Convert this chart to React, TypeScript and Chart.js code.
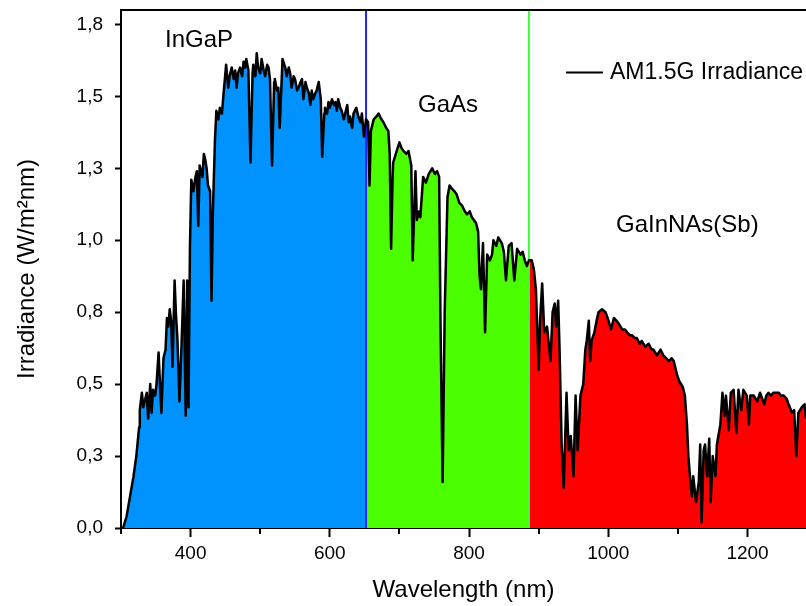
import React, { useEffect, useRef } from "react";
import { Chart, registerables } from "chart.js";

Chart.register(...registerables);

// Wavelength (nm) and AM1.5G spectral irradiance (W/m²nm)
const wavelengths = [
  300, 303, 308, 313, 318, 322, 326, 327, 330, 332, 335, 337, 339, 342, 344, 346, 349, 351, 354, 356, 358, 361,
  364, 366, 368, 370, 372, 374, 377, 379, 381, 384, 387, 390, 393, 395, 397, 399, 401, 404, 407, 409, 411, 413, 417, 419, 421, 423, 425,
  428, 430, 432, 435, 437, 440, 442, 445, 447, 451, 454, 456, 459, 462, 464, 466, 468, 471, 474, 476, 478, 480, 483, 486, 489, 490, 493, 495,
  497, 500, 502, 505, 507, 510, 512, 514, 517, 520, 521, 524, 526, 528, 532, 536, 538, 541, 543, 545, 548, 550, 553, 555, 558, 560, 562, 565, 567,
  570, 572, 574, 576, 579, 581, 584, 587, 589, 592, 593, 596, 598, 600, 603, 606, 608, 610, 612, 615, 617, 620, 622, 625, 627, 629, 632, 634, 638, 641, 644, 646,
  649, 652, 655, 657, 659, 663, 667, 670, 674, 677, 681, 684, 686, 688, 690, 691, 696, 700, 703, 706, 710, 713, 717, 719, 723,
  725, 728, 730, 734, 738, 742, 747, 751, 754, 757, 759, 762, 765, 769, 772, 775, 779, 782, 786, 790, 794, 797, 801, 804, 810, 813, 815, 817,
  820, 823, 826, 830, 833, 835, 839, 842, 847, 850, 853, 857, 861, 865, 869, 874, 877, 880, 883, 886, 890, 893, 896, 900,
  902, 905, 908, 912, 917, 920, 923, 925, 928, 930, 933, 936, 940, 943, 946, 950, 953, 956, 960, 964,
  967, 969, 972, 974, 976, 980, 984, 986, 991, 996, 999, 1004, 1008, 1012, 1015, 1020, 1024, 1027, 1031, 1034, 1038, 1041, 1045, 1048, 1053, 1058,
  1062, 1065, 1070, 1075, 1079, 1083, 1087, 1091, 1094, 1099, 1102, 1107, 1110, 1113, 1115, 1118, 1120, 1122, 1126, 1130, 1132, 1134, 1137,
  1139, 1142, 1145, 1147, 1150, 1154, 1156, 1161, 1164, 1167, 1169, 1173, 1176, 1180, 1184, 1187, 1191, 1194, 1199, 1202,
  1204, 1209, 1214, 1218, 1221, 1224, 1227, 1230, 1234, 1237, 1241, 1245, 1248, 1252, 1256, 1259, 1264, 1267, 1270, 1273, 1278, 1282, 1284,
];

const irradiance = [
  0.0, 0.0, 0.04, 0.11, 0.18, 0.25, 0.35, 0.41, 0.47, 0.42, 0.45, 0.47, 0.38, 0.5, 0.4, 0.48, 0.46, 0.5, 0.61, 0.5, 0.4, 0.59,
  0.62, 0.73, 0.7, 0.76, 0.72, 0.56, 0.86, 0.74, 0.66, 0.44, 0.64, 0.86, 0.39, 0.86, 0.42, 0.97, 1.21, 1.17, 1.22, 1.24, 1.05, 1.26, 1.22, 1.3, 1.28, 1.25, 1.19,
  1.17, 0.79, 1.1, 1.35, 1.45, 1.42, 1.46, 1.44, 1.5, 1.61, 1.53, 1.57, 1.6, 1.56, 1.59, 1.53, 1.58, 1.6, 1.57, 1.62, 1.6, 1.63, 1.59, 1.27, 1.58, 1.61, 1.57, 1.65,
  1.6, 1.58, 1.63, 1.59, 1.57, 1.61, 1.6, 1.56, 1.26, 1.55, 1.56, 1.52, 1.53, 1.39, 1.63, 1.6, 1.57, 1.6, 1.58, 1.53, 1.57, 1.56, 1.52, 1.53, 1.55, 1.56, 1.49, 1.55, 1.53,
  1.51, 1.47, 1.52, 1.49, 1.51, 1.52, 1.55, 1.49, 1.29, 1.44, 1.46, 1.44, 1.48, 1.46, 1.49, 1.47, 1.48, 1.45, 1.49, 1.46, 1.45, 1.42, 1.44, 1.47, 1.41, 1.43, 1.39, 1.44, 1.46, 1.43, 1.41, 1.44,
  1.36, 1.42, 1.41, 1.19, 1.38, 1.42, 1.43, 1.44, 1.42, 1.41, 1.39, 1.38, 1.3, 0.97, 1.2, 1.27, 1.31, 1.34, 1.32, 1.31, 1.3, 1.31, 1.26, 0.93, 1.24,
  1.07, 1.1, 1.08, 1.22, 1.2, 1.23, 1.25, 1.23, 1.24, 1.22, 0.7, 0.16, 0.75, 1.15, 1.19, 1.18, 1.17, 1.16, 1.13, 1.12, 1.1, 1.09, 1.1, 1.08, 1.06, 1.03, 0.88, 0.83,
  0.99, 0.68, 0.95, 0.93, 0.95, 1.0, 0.98, 1.01, 0.99, 0.96, 0.86, 0.98, 0.99, 0.86, 0.97, 0.95, 0.96, 0.93, 0.91, 0.93, 0.93, 0.9, 0.83, 0.55,
  0.72, 0.85, 0.68, 0.7, 0.58, 0.75, 0.78, 0.7, 0.79, 0.62, 0.29, 0.14, 0.47, 0.27, 0.32, 0.18, 0.46, 0.27, 0.46, 0.5,
  0.62, 0.65, 0.72, 0.58, 0.65, 0.68, 0.73, 0.75, 0.76, 0.75, 0.73, 0.69, 0.73, 0.72, 0.71, 0.69, 0.69, 0.68, 0.67, 0.67, 0.66, 0.66, 0.64, 0.65, 0.63, 0.64,
  0.62, 0.62, 0.6, 0.62, 0.6, 0.59, 0.58, 0.59, 0.58, 0.53, 0.51, 0.49, 0.46, 0.36, 0.25, 0.16, 0.11, 0.18, 0.09, 0.16, 0.29, 0.02, 0.27,
  0.29, 0.18, 0.31, 0.09, 0.25, 0.18, 0.29, 0.36, 0.47, 0.39, 0.46, 0.34, 0.47, 0.48, 0.33, 0.48, 0.41, 0.48, 0.46, 0.36,
  0.46, 0.46, 0.44, 0.47, 0.45, 0.43, 0.46, 0.47, 0.46, 0.47, 0.47, 0.47, 0.46, 0.46, 0.45, 0.43, 0.4, 0.41, 0.25, 0.4, 0.42, 0.43, 0.38,
];

// Sub-cell band edges (nm) and labels
const bandEdges = [652, 886];
const bandNames = ["InGaP", "GaAs", "GaInNAs(Sb)"];
const bandFills = ["#0092FF", "#4CFF00", "#FF0000"];
const edgeColors = ["#2222FF", "#3CFF3C"];
const seriesName = "AM1.5G Irradiance";

// Axis ticks
const xMajorTicks = [400, 600, 800, 1000, 1200];
const xMinorTicks = [300, 500, 700, 900, 1100];
const yTicks = [0, 0.25, 0.5, 0.75, 1.0, 1.25, 1.5, 1.75];
const xRange = [300, 1284];
const yRange = [0, 1.8];

const FONT = "'Liberation Sans', Arial, sans-serif";

export default function App() {
  const canvasRef = useRef<HTMLCanvasElement>(null);

  useEffect(() => {
    const canvas = canvasRef.current;
    if (!canvas) return;

    const points = wavelengths.map((x, i) => ({ x, y: irradiance[i] }));
    const lo = [xRange[0], bandEdges[0], bandEdges[1]];
    const hi = [bandEdges[0], bandEdges[1], xRange[1]];
    const fillSets = bandNames.map((name, i) => ({
      label: name,
      data: points.filter((p) => p.x >= lo[i] && p.x <= hi[i]),
      backgroundColor: bandFills[i],
      borderWidth: 0,
      pointRadius: 0,
      fill: "origin",
      order: 3,
    }));
    const edgeSets = bandEdges.map((e, i) => ({
      label: "edge" + i,
      data: [
        { x: e, y: yRange[0] },
        { x: e, y: yRange[1] },
      ],
      borderColor: edgeColors[i],
      borderWidth: 2,
      pointRadius: 0,
      fill: false,
      order: 2,
    }));

    const decor = {
      id: "decor",
      afterDraw(chart: any) {
        const ctx = chart.ctx;
        const { left, right, top, bottom } = chart.chartArea;
        const xs = chart.scales.x;
        ctx.save();
        // top frame line
        ctx.strokeStyle = "#000";
        ctx.lineWidth = 2;
        ctx.beginPath();
        ctx.moveTo(left - 1, top);
        ctx.lineTo(right, top);
        ctx.stroke();
        // minor x ticks
        ctx.beginPath();
        xMinorTicks.forEach((v) => {
          const px = Math.round(xs.getPixelForValue(v));
          ctx.moveTo(px, bottom);
          ctx.lineTo(px, bottom + 6);
        });
        ctx.stroke();
        // band labels
        ctx.fillStyle = "#000";
        ctx.font = `24px ${FONT}`;
        ctx.textBaseline = "alphabetic";
        ctx.textAlign = "left";
        ctx.fillText(bandNames[0], 165, 47);
        ctx.fillText(bandNames[1], 418, 112);
        ctx.fillText(bandNames[2], 616, 232);
        // legend
        ctx.beginPath();
        ctx.moveTo(566, 72.5);
        ctx.lineTo(603, 72.5);
        ctx.stroke();
        ctx.font = `23px ${FONT}`;
        ctx.fillText(seriesName, 610, 79);
        ctx.restore();
      },
    };

    const chart = new Chart(canvas, {
      type: "line",
      data: {
        datasets: [
          {
            label: seriesName,
            data: points,
            borderColor: "#000",
            borderWidth: 2.5,
            borderJoinStyle: "round",
            pointRadius: 0,
            fill: false,
            tension: 0,
            order: 1,
          } as any,
          ...(edgeSets as any[]),
          ...(fillSets as any[]),
        ],
      },
      options: {
        responsive: false,
        animation: false,
        events: [],
        layout: { padding: { top: 10, right: 0, bottom: 0, left: 0 } },
        plugins: {
          legend: { display: false },
          tooltip: { enabled: false },
        },
        scales: {
          x: {
            type: "linear",
            min: xRange[0],
            max: xRange[1],
            afterFit: (s: any) => {
              s.height = 78;
              s.paddingLeft = 0;
              s.paddingRight = 0;
            },
            afterBuildTicks: (s: any) => {
              s.ticks = xMajorTicks.map((v) => ({ value: v }));
            },
            border: { display: true, color: "#000", width: 2 },
            grid: {
              drawOnChartArea: false,
              drawTicks: true,
              tickLength: 9,
              tickColor: "#000",
              tickWidth: 2,
            },
            ticks: {
              color: "#000",
              font: { family: FONT, size: 19 },
              padding: 5,
              maxRotation: 0,
              autoSkip: false,
              callback: (v: any) => String(v),
            },
            title: {
              display: true,
              text: "Wavelength (nm)",
              color: "#000",
              font: { family: FONT, size: 24, lineHeight: 1.2 },
              padding: { top: 0, bottom: 1 },
            },
          },
          y: {
            type: "linear",
            min: yRange[0],
            max: yRange[1],
            afterFit: (s: any) => {
              s.width = 121;
              s.paddingTop = 0;
              s.paddingBottom = 0;
            },
            afterBuildTicks: (s: any) => {
              s.ticks = yTicks.map((v) => ({ value: v }));
            },
            border: { display: true, color: "#000", width: 2 },
            grid: {
              drawOnChartArea: false,
              drawTicks: true,
              tickLength: 6,
              tickColor: "#000",
              tickWidth: 2,
            },
            ticks: {
              color: "#000",
              font: { family: FONT, size: 19 },
              padding: 12,
              autoSkip: false,
              callback: (v: any) => Number(v).toFixed(1).replace(".", ","),
            },
            title: {
              display: true,
              text: "Irradiance (W/m²nm)",
              color: "#000",
              font: { family: FONT, size: 24, lineHeight: 1.2 },
              padding: { top: 13, bottom: 0 },
            },
          },
        },
      },
      plugins: [decor],
    });

    return () => chart.destroy();
  }, []);

  return (
    <div style={{ position: "absolute", left: 0, top: 0, width: 806, height: 606, background: "#fff" }}>
      <canvas ref={canvasRef} width={806} height={606} style={{ display: "block" }} />
    </div>
  );
}
